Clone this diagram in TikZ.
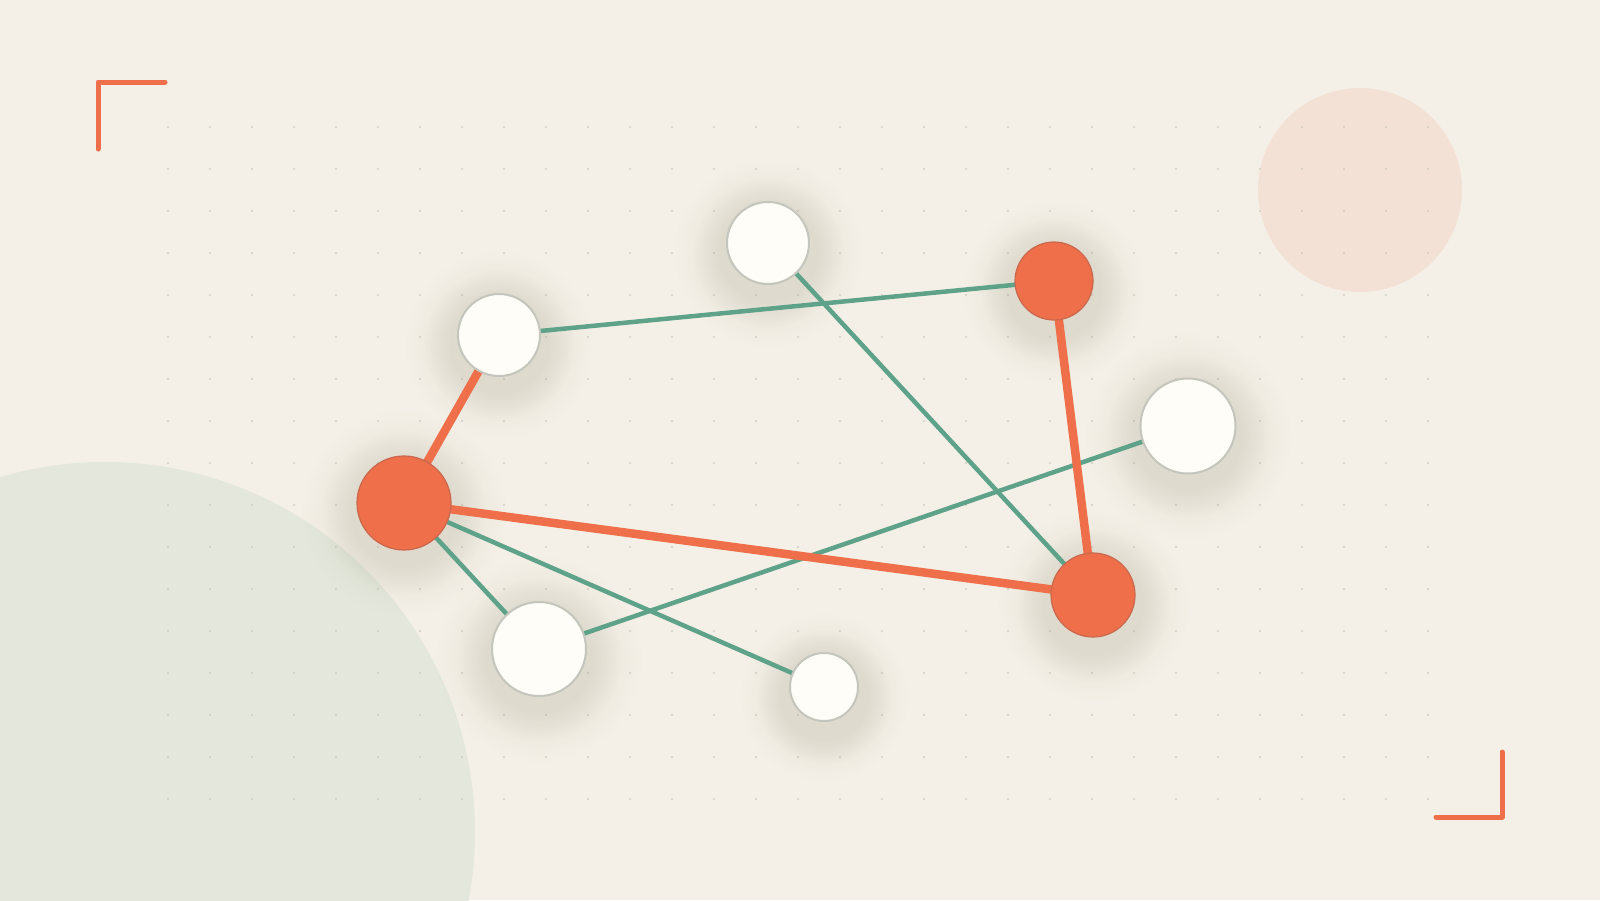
\documentclass[tikz,border=0pt]{standalone}
\usetikzlibrary{fadings}
\definecolor{bgc}{HTML}{F5F0E7}
\definecolor{sage}{HTML}{E4E8DC}
\definecolor{blush}{HTML}{F3E1D5}
\definecolor{coral}{HTML}{EE6F4A}
\definecolor{coraledge}{HTML}{C9684C}
\definecolor{teal}{HTML}{5FA28A}
\definecolor{nodewhite}{HTML}{FEFDF8}
\definecolor{nodegrey}{HTML}{C4C5BC}
\definecolor{dotc}{HTML}{D3CEC3}
\definecolor{shadowc}{HTML}{7E7F66}
\pgfdeclareradialshading{shadowshade}{\pgfpoint{0bp}{0bp}}{color(0bp)=(white); color(13bp)=(white); color(17bp)=(gray!80!white); color(20bp)=(gray!40!black); color(25bp)=(black); color(50bp)=(black)}
\pgfdeclarefading{softfade}{\pgfuseshading{shadowshade}}
\pgfdeclarelayer{bg}
\pgfdeclarelayer{edges}
\pgfdeclarelayer{shadows}
\pgfsetlayers{bg,shadows,edges,main}
\tikzset{
  whitenode/.style={circle,inner sep=0pt,fill=nodewhite,draw=nodegrey,line width=2pt},
  coralnode/.style={circle,inner sep=0pt,fill=coral,draw=coraledge,line width=1.2pt},
  tealedge/.style={draw=teal,line width=4.5pt},
  coraledgeline/.style={draw=coral,line width=8.5pt},
  bracket/.style={draw=coral,line width=5pt,line cap=round,line join=round},
  shadowblob/.style={fill=shadowc,fill opacity=0.19,path fading=softfade}
}
\newcommand{\nodeshadow}[2]{%
  \path[shadowblob] ([yshift=-10pt]#1.center) circle ({1.45*(#2+24)});
}
\begin{document}
\begin{tikzpicture}[x=1pt,y=-1pt]
\useasboundingbox (0,0) rectangle (1600,900);
\begin{pgfonlayer}{bg}
\fill[bgc] (0,0) rectangle (1600,900);
\begin{scope}
\clip (0,0) rectangle (1600,900);
\fill[sage] (105,832) circle (370);
\end{scope}
\fill[blush] (1360,190) circle (102);
\foreach \i in {0,...,30}{
  \foreach \j in {0,...,16}{
    \fill[dotc] ({168+42*\i},{127+42*\j}) circle (1.2);
  }
}
\draw[bracket] (98,149) -- (98,82) -- (165,82);
\draw[bracket] (1436,817) -- (1502,817) -- (1502,752);
\end{pgfonlayer}

\node[whitenode,minimum size=82pt] (w1) at (768,243) {};
\node[whitenode,minimum size=82pt] (w2) at (499,335) {};
\node[coralnode,minimum size=78pt] (o1) at (1054,281) {};
\node[whitenode,minimum size=95pt] (w3) at (1188,426) {};
\node[coralnode,minimum size=94pt] (o2) at (404,503) {};
\node[coralnode,minimum size=84pt] (o3) at (1093,595) {};
\node[whitenode,minimum size=94pt] (w4) at (539,649) {};
\node[whitenode,minimum size=68pt] (w5) at (824,687) {};

\begin{pgfonlayer}{shadows}
\nodeshadow{w1}{41}
\nodeshadow{w2}{41}
\nodeshadow{o1}{39}
\nodeshadow{w3}{47}
\nodeshadow{o2}{47}
\nodeshadow{o3}{42}
\nodeshadow{w4}{47}
\nodeshadow{w5}{34}
\end{pgfonlayer}

\begin{pgfonlayer}{edges}
\draw[tealedge] (w2.center) -- (o1.center);
\draw[tealedge] (w1.center) -- (o3.center);
\draw[tealedge] (o2.center) -- (w4.center);
\draw[tealedge] (o2.center) -- (w5.center);
\draw[tealedge] (w4.center) -- (w3.center);
\draw[coraledgeline] (w2.center) -- (o2.center);
\draw[coraledgeline] (o1.center) -- (o3.center);
\draw[coraledgeline] (o2.center) -- (o3.center);
\end{pgfonlayer}
\end{tikzpicture}
\end{document}
